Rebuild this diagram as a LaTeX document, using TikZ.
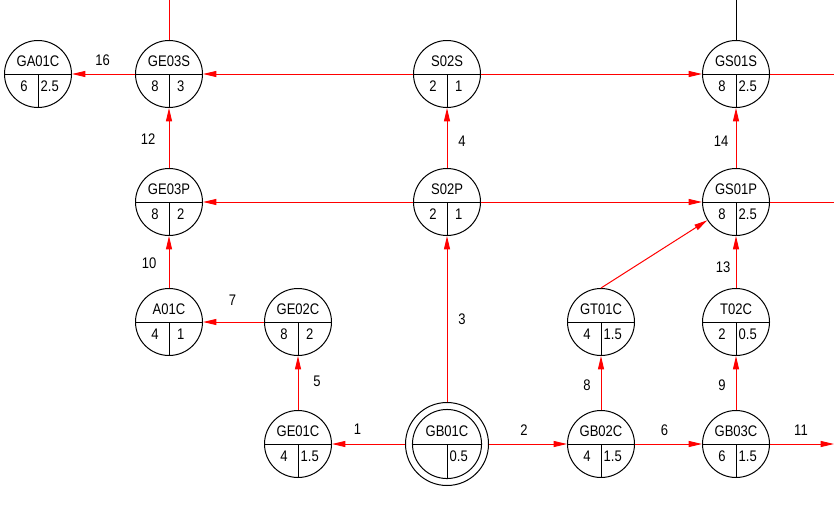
\documentclass[tikz,border=0pt]{standalone}
\usepackage{fontspec}
\setmainfont{Liberation Sans}[FakeStretch=0.85]
\usetikzlibrary{arrows.meta}
\definecolor{pipered}{RGB}{255,0,0}
\tikzset{
  unit/.style={circle,draw,line width=0.75pt,minimum size=50.25pt,inner sep=0pt},
  flow/.style={draw=pipered,line width=0.75pt,-{Triangle[length=10pt,width=4.5pt]}},
  lead/.style={draw=pipered,line width=0.75pt},
  tag/.style={inner sep=0pt},
  num/.style={midway,inner sep=0pt}
}

\begin{document}
\begin{tikzpicture}[x=0.75pt,y=-0.75pt,font=\fontsize{11.5}{13}\selectfont]
\useasboundingbox (0,0) rectangle (834,525);
% units
\foreach \n/\x/\y/\t/\a/\b in {ga01c/38/74/GA01C/6/2.5,ge03s/169/74/GE03S/8/3,s02s/447/74/S02S/2/1,gs01s/736/74/GS01S/8/2.5,
  ge03p/169/202/GE03P/8/2,s02p/447/202/S02P/2/1,gs01p/736/202/GS01P/8/2.5,
  a01c/169/322/A01C/4/1,ge02c/298/322/GE02C/8/2,gt01c/601/322/GT01C/4/1.5,t02c/736/322/T02C/2/0.5,
  ge01c/298/444/GE01C/4/1.5,gb02c/601/444/GB02C/4/1.5,gb03c/736/444/GB03C/6/1.5}{
  \node[unit] (\n) at (\x,\y) {};
  \draw[line width=0.75pt] (\n.west) -- (\n.east) (\n.center) -- (\n.south);
  \node[tag] (\n-t) at ([yshift=9.75pt]\n.center) {\t};
  \node[tag] (\n-a) at ([xshift=-10.5pt,yshift=-9pt]\n.center) {\a};
  \node[tag] (\n-b) at ([xshift=8.8pt,yshift=-9pt]\n.center) {\b};
}
% double circle unit
\node[unit,minimum size=62.25pt] (gb01c) at (447,444) {};
\draw[line width=0.75pt] (gb01c.center) circle[radius=25.9pt];
\draw[line width=0.75pt] ([xshift=-25.9pt]gb01c.center) -- ([xshift=25.9pt]gb01c.center)
  (gb01c.center) -- ([yshift=-25.9pt]gb01c.center);
\node[tag] (gb01c-t) at ([yshift=9.75pt]gb01c.center) {GB01C};
\node[tag] (gb01c-b) at ([xshift=8.8pt,yshift=-9pt]gb01c.center) {0.5};
% open ends
\coordinate (top1) at (169,0);
\coordinate (top2) at (736,0);
\coordinate (right1) at (834,74);
\coordinate (right2) at (834,202);
\coordinate (out11) at (834,444);
\draw[lead] (ge03s) -- (top1);
\draw[line width=0.75pt] (gs01s) -- (top2);
\draw[lead] (gs01s) -- (right1);
\draw[lead] (gs01p) -- (right2);
% flows
\draw[flow] (ge03s) -- node[num,shift={(-1,-14)}] (n16) {16} (ga01c);
\draw[flow] (s02s) -- (ge03s);
\draw[flow] (s02s) -- (gs01s);
\draw[flow] (ge03p) -- node[num,shift={(-21,1)}] (n12) {12} (ge03s);
\draw[flow] (s02p) -- node[num,shift={(15,3)}] (n4) {4} (s02s);
\draw[flow] (gs01p) -- node[num,shift={(-15,3)}] (n14) {14} (gs01s);
\draw[flow] (s02p) -- (ge03p);
\draw[flow] (s02p) -- (gs01p);
\draw[flow] (a01c) -- node[num,shift={(-20,1)}] (n10) {10} (ge03p);
\draw[flow] (ge02c) -- node[num,shift={(-1,-22)}] (n7) {7} (a01c);
\draw[flow] (ge01c) -- node[num,shift={(19,-2)}] (n5) {5} (ge02c);
\draw[flow] (gb01c) -- node[num,shift={(-11,-15)}] (n1) {1} (ge01c);
\draw[flow] (gb01c) -- node[num,shift={(15,0)}] (n3) {3} (s02p);
\draw[flow] (gb01c) -- node[num,shift={(-4,-14)}] (n2) {2} (gb02c);
\draw[flow] (gb02c) -- node[num,shift={(-14,2)}] (n8) {8} (gt01c);
\draw[flow] (gt01c.north) -- (gs01p);
\draw[flow] (gb02c) -- node[num,shift={(-4,-14)}] (n6) {6} (gb03c);
\draw[flow] (gb03c) -- node[num,shift={(-14,2)}] (n9) {9} (t02c);
\draw[flow] (t02c) -- node[num,shift={(-13,5)}] (n13) {13} (gs01p);
\draw[flow] (gb03c) -- node[num,shift={(-1,-14)}] (n11) {11} (out11);
\end{tikzpicture}
\end{document}
